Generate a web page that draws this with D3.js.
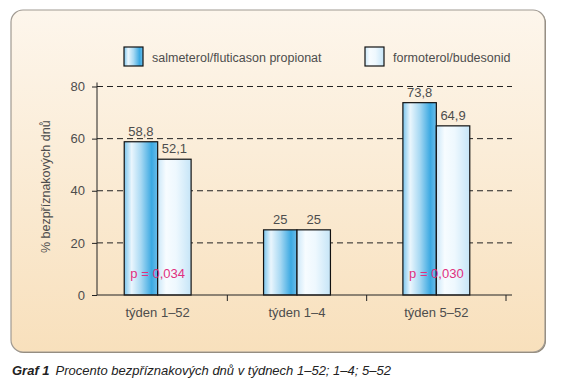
<!DOCTYPE html>
<html>
<head>
<meta charset="utf-8">
<script src="https://cdn.jsdelivr.net/npm/d3@7"></script>
<style>
  body { margin: 0; background: #fff; }
  svg { display: block; font-family: "Liberation Sans", Arial, sans-serif; }
</style>
</head>
<body>
<div id="chart"></div>
<script>
const categories = ["týden 1–52", "týden 1–4", "týden 5–52"];
const series = ["salmeterol/fluticason propionat", "formoterol/budesonid"];
const salmeterol = [58.8, 25, 73.8];
const formoterol = [52.1, 25, 64.9];
const valueLabels = [["58,8", "52,1"], ["25", "25"], ["73,8", "64,9"]];
const pValues = ["p = 0,034", "", "p = 0,030"];
const yTicks = [0, 20, 40, 60, 80];

const W = 562, H = 388;
const textColor = "#4d4d4d";
const svg = d3.select("#chart").append("svg")
    .attr("width", W)
    .attr("height", H);

const defs = svg.append("defs");

const bg = defs.append("linearGradient").attr("id", "bg")
    .attr("x1", 0).attr("y1", 0).attr("x2", 0).attr("y2", 1);
bg.append("stop").attr("offset", "0%").attr("stop-color", "#fdf6ec");
bg.append("stop").attr("offset", "100%").attr("stop-color", "#f8e0bc");

// dark blue bar: light edge, pale streak, deep blue towards right
const g1 = defs.append("linearGradient").attr("id", "g1");
[["0%", "#7cc6ee"], ["22%", "#eaf6fd"], ["50%", "#a8d9f3"], ["82%", "#3ba9e2"], ["100%", "#6cbde9"]]
    .forEach(s => g1.append("stop").attr("offset", s[0]).attr("stop-color", s[1]));

// pale bar
const g2 = defs.append("linearGradient").attr("id", "g2");
[["0%", "#cbe7f8"], ["25%", "#f7fcff"], ["55%", "#eef8fe"], ["100%", "#c6e5f7"]]
    .forEach(s => g2.append("stop").attr("offset", s[0]).attr("stop-color", s[1]));

const fills = ["url(#g1)", "url(#g2)"];

// panel
svg.append("rect")
    .attr("x", 12).attr("y", 11).attr("width", 534).attr("height", 342)
    .attr("rx", 12).attr("fill", "#8a8070");
svg.append("rect")
    .attr("x", 11).attr("y", 10).attr("width", 534).attr("height", 342)
    .attr("rx", 12).attr("fill", "url(#bg)")
    .attr("stroke", "#a09a92").attr("stroke-width", 1.2);

// scales
const y = d3.scaleLinear().domain([0, 80]).range([295, 86.5]);
const x0 = d3.scaleBand().domain(categories).range([88, 506])
    .paddingInner(0.52).paddingOuter(0.26);
const x1 = d3.scaleBand().domain(series).range([0, x0.bandwidth()]);

const axisLeft = 97, axisRight = 512;

// dashed grid
svg.append("g").selectAll("line")
    .data(yTicks.filter(d => d > 0))
    .join("line")
    .attr("x1", axisLeft).attr("x2", axisRight)
    .attr("y1", d => y(d)).attr("y2", d => y(d))
    .attr("stroke", "#222").attr("stroke-width", 1)
    .attr("stroke-dasharray", "6,4");

// y axis
const yAxis = svg.append("g")
    .attr("transform", `translate(${axisLeft},0)`)
    .call(d3.axisLeft(y).tickValues(yTicks).tickSize(5).tickPadding(7));
yAxis.select(".domain").remove();
yAxis.append("line")
    .attr("x1", 0).attr("x2", 0)
    .attr("y1", y(0)).attr("y2", y(80) - 4)
    .attr("stroke", "#222");
yAxis.selectAll(".tick line").attr("stroke", "#222");
yAxis.selectAll(".tick text")
    .attr("fill", textColor).attr("font-size", 13)
    .attr("font-family", "Liberation Sans, Arial, sans-serif");

svg.append("text")
    .attr("transform", `translate(50,${(y(0) + y(80)) / 2 - 4}) rotate(-90)`)
    .attr("text-anchor", "middle")
    .attr("fill", textColor)
    .attr("font-size", 12.5)
    .text("% bezpříznakových dnů");

// bars
const groups = svg.append("g").selectAll("g")
    .data(categories)
    .join("g")
    .attr("transform", d => `translate(${x0(d)},0)`);

groups.selectAll("rect")
    .data((c, i) => [salmeterol[i], formoterol[i]].map((v, j) => ({ s: series[j], v, j })))
    .join("rect")
    .attr("x", d => x1(d.s))
    .attr("y", d => y(d.v))
    .attr("width", x1.bandwidth())
    .attr("height", d => y(0) - y(d.v))
    .attr("fill", d => fills[d.j])
    .attr("stroke", "#111").attr("stroke-width", 1.2);

groups.selectAll("text.val")
    .data((c, i) => [salmeterol[i], formoterol[i]].map((v, j) => ({ s: series[j], v, lab: valueLabels[i][j] })))
    .join("text")
    .attr("class", "val")
    .attr("x", d => x1(d.s) + x1.bandwidth() / 2)
    .attr("y", d => y(d.v) - 6)
    .attr("text-anchor", "middle")
    .attr("fill", textColor)
    .attr("font-size", 13)
    .text(d => d.lab);

groups.append("text")
    .attr("x", x0.bandwidth() / 2)
    .attr("y", 278)
    .attr("text-anchor", "middle")
    .attr("fill", "#e0307f")
    .attr("font-size", 13)
    .text((c, i) => pValues[i]);

// x axis
svg.append("line")
    .attr("x1", axisLeft).attr("x2", axisRight)
    .attr("y1", y(0)).attr("y2", y(0))
    .attr("stroke", "#222").attr("stroke-width", 1.2);

const step = x0.step();
svg.append("g").selectAll("line")
    .data(categories)
    .join("line")
    .attr("x1", d => x0(d) + x0.bandwidth() / 2 + step / 2)
    .attr("x2", d => x0(d) + x0.bandwidth() / 2 + step / 2)
    .attr("y1", y(0)).attr("y2", y(0) + 6)
    .attr("stroke", "#222");

svg.append("g").selectAll("text")
    .data(categories)
    .join("text")
    .attr("x", d => x0(d) + x0.bandwidth() / 2)
    .attr("y", 317)
    .attr("text-anchor", "middle")
    .attr("fill", textColor)
    .attr("font-size", 13)
    .text(d => d);

// legend
const legendX = [124, 365];
const legend = svg.append("g").selectAll("g")
    .data(series)
    .join("g")
    .attr("transform", (d, i) => `translate(${legendX[i]},47)`);
legend.append("rect")
    .attr("width", 19).attr("height", 19)
    .attr("fill", (d, i) => fills[i])
    .attr("stroke", "#111").attr("stroke-width", 1.2);
legend.append("text")
    .attr("x", 28).attr("y", 14.5)
    .attr("fill", textColor)
    .attr("font-size", 12.5)
    .text(d => d);

// caption
const cap = svg.append("text")
    .attr("x", 12).attr("y", 375)
    .attr("fill", "#222")
    .attr("font-size", 13)
    .attr("font-style", "italic");
cap.append("tspan").attr("font-weight", "bold").text("Graf 1");
cap.append("tspan").attr("dx", 6).text("Procento bezpříznakových dnů v týdnech 1–52; 1–4; 5–52");
</script>
</body>
</html>
